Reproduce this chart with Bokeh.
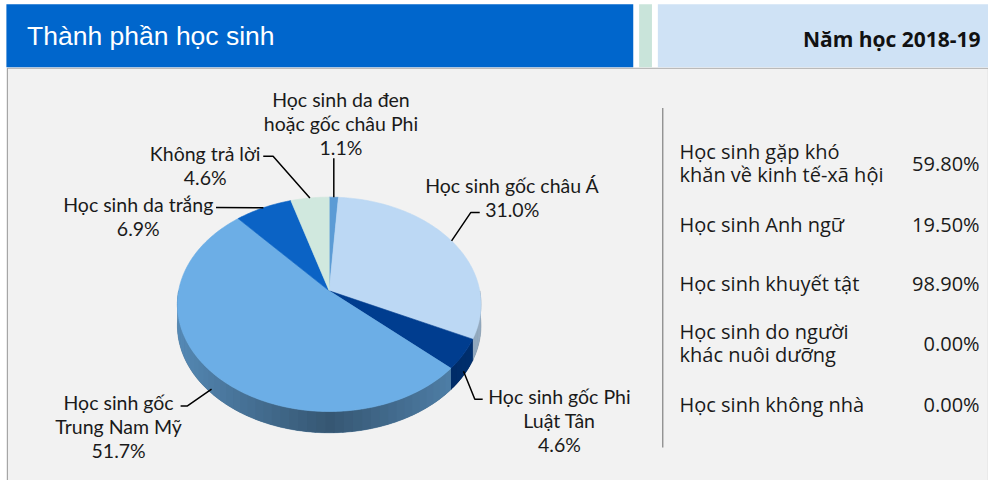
import numpy as np
from bokeh.plotting import figure
from bokeh.models import Range1d
from bokeh.embed import file_html
from bokeh.resources import INLINE
from bokeh.core.properties import value

# ---------------- data ----------------
title_text = "Thành phần học sinh"
year_text = "Năm học 2018-19"

group_labels = ["Học sinh da đen\nhoặc gốc châu Phi", "Học sinh gốc châu Á",
                "Học sinh gốc Phi\nLuật Tân", "Học sinh gốc\nTrung Nam Mỹ",
                "Học sinh da trắng", "Không trả lời"]
group_shares = [1.1, 31.0, 4.6, 51.7, 6.9, 4.6]

stat_labels = ["Học sinh gặp khó\nkhăn về kinh tế-xã hội", "Học sinh Anh ngữ",
               "Học sinh khuyết tật", "Học sinh do người\nkhác nuôi dưỡng",
               "Học sinh không nhà"]
stat_values = [59.80, 19.50, 98.90, 0.00, 0.00]

# ---------------- styles / layout ----------------
top_colors = ["#5b9bd5", "#bcd8f4", "#003d8f", "#6caee6", "#0b63c5", "#d0e8de"]
CX, CY, RX, RY, K, TH = 334.0, 300.0, 153.0, 109.0, 0.126, 22.0

label_centers = [(346, 102), (520, 191), (568, 409), (120, 415), (140, 211), (208, 158)]
label_gap = 25
leader_paths = [[(None, 163)], [(487, 219), (478, 219)], [(490, 412), (482, 412)],
                [(183, 419), (190, 419)], [(219, 214)], [(267, 161), (277, 161)]]

row_y = [168, 231, 292, 354, 417]
row_gap = 23

LABEL_FONT = "Lato"
TABLE_FONT = "Open Sans"


def proj(t):
    w = 1 + K * np.cos(t)
    return CX + RX * np.sin(t) / w, CY - RY * np.cos(t) / w


def shade(hexcol, f):
    h = hexcol.lstrip("#")
    r, g, b = (int(h[i:i + 2], 16) for i in (0, 2, 4))
    c = [max(0, min(255, int(round(v * f)))) for v in (r, g, b)]
    return "#%02x%02x%02x" % tuple(c)


p = figure(width=988, height=480, x_range=Range1d(0, 1004), y_range=Range1d(496, 0),
           output_backend="svg", toolbar_location=None, min_border=0)
p.axis.visible = False
p.grid.visible = False
p.outline_line_color = None
p.background_fill_color = "white"
p.border_fill_color = "white"

# panels
p.quad(left=[7], right=[1004], top=[70], bottom=[496], fill_color="#f2f2f2",
       line_color="#a6a6a6", line_width=1.2)
p.quad(left=[6], right=[643], top=[4], bottom=[69], fill_color="#0066cc", line_color=None)
p.quad(left=[649], right=[662], top=[4], bottom=[69], fill_color="#c9e4da", line_color=None)
p.quad(left=[668], right=[1004], top=[4], bottom=[69], fill_color="#cfe2f5", line_color=None)

p.text(x=[27], y=[37], text=[title_text], text_font=value("Liberation Sans"),
       text_font_size="26.5px", text_color="white", text_baseline="middle", text_align="left")
p.text(x=[996], y=[40], text=[year_text], text_font=value(TABLE_FONT),
       text_font_size="21px", text_font_style="bold", text_color="#111111",
       text_baseline="middle", text_align="right")

# ---------------- pie ----------------
frac = np.array(group_shares) / np.sum(group_shares)
edges = np.concatenate([[0.0], np.cumsum(frac)]) * 2 * np.pi

# sides (front half only): a base band per slice, then shaded bands on top
bx, by, bc = [], [], []
sx, sy, sc = [], [], []
for i in range(len(frac)):
    lo, hi = max(edges[i], np.pi / 2), min(edges[i + 1], 3 * np.pi / 2)
    if hi <= lo:
        continue
    ts = np.linspace(lo, hi, max(3, int(np.degrees(hi - lo)) + 2))
    x, y = proj(ts)
    bx.append(list(x) + list(x[::-1]))
    by.append(list(y) + list((y + TH)[::-1]))
    bc.append(shade(top_colors[i], 0.62))
    n = max(2, int(np.degrees(hi - lo) / 3))
    tt = np.linspace(lo, hi, n + 1)
    for j in range(n):
        a, b = tt[j], min(tt[j + 1] + 0.01, hi)
        seg = np.linspace(a, b, 4)
        xs_, ys_ = proj(seg)
        sx.append(list(xs_) + list(xs_[::-1]))
        sy.append(list(ys_) + list((ys_ + TH)[::-1]))
        m = 0.5 * (tt[j] + tt[j + 1])
        sc.append(shade(top_colors[i], 0.50 + 0.30 * abs(np.sin(m))))
p.patches(xs=bx, ys=by, fill_color=bc, line_color=bc, line_width=0.5)
p.patches(xs=sx, ys=sy, fill_color=sc, line_color=None)

# top faces
tx, ty = [], []
for i in range(len(frac)):
    n = max(3, int(np.degrees(edges[i + 1] - edges[i])) + 2)
    t = np.linspace(edges[i], edges[i + 1], n)
    x, y = proj(t)
    tx.append([CX] + list(x))
    ty.append([CY] + list(y))
p.patches(xs=tx, ys=ty, fill_color=top_colors, line_color=top_colors, line_width=0.6)

# labels and leaders
for i, lab in enumerate(group_labels):
    lines = lab.split("\n") + ["%.1f%%" % group_shares[i]]
    cx, cy = label_centers[i]
    p.text(x=[cx] * len(lines), y=[cy + k * label_gap for k in range(len(lines))],
           text=lines, text_font=value(LABEL_FONT), text_font_size="19.5px",
           text_color="#1a1a1a", text_align="center", text_baseline="middle")
    mid = 0.5 * (edges[i] + edges[i + 1])
    ax, ay = proj(mid)
    if np.cos(mid) < 0:
        ay = ay + TH * 0.8
    pts = [(ax if px is None else px, py) for px, py in leader_paths[i]] + [(ax, ay)]
    p.line(x=[q[0] for q in pts], y=[q[1] for q in pts], line_color="black", line_width=1.5)

# ---------------- right table ----------------
p.line(x=[673, 673], y=[111, 462], line_color="#808080", line_width=1.2)
for i, lab in enumerate(stat_labels):
    lines = lab.split("\n")
    n = len(lines)
    ys = [row_y[i] + (k - (n - 1) / 2) * row_gap for k in range(n)]
    p.text(x=[690] * n, y=ys, text=lines, text_font=value(TABLE_FONT),
           text_font_size="20px", text_color="#1a1a1a", text_align="left",
           text_baseline="middle")
    p.text(x=[995], y=[row_y[i]], text=["%.2f%%" % stat_values[i]],
           text_font=value(TABLE_FONT), text_font_size="20px", text_color="#1a1a1a",
           text_align="right", text_baseline="middle")

open("out.html", "w").write(file_html(p, INLINE))
